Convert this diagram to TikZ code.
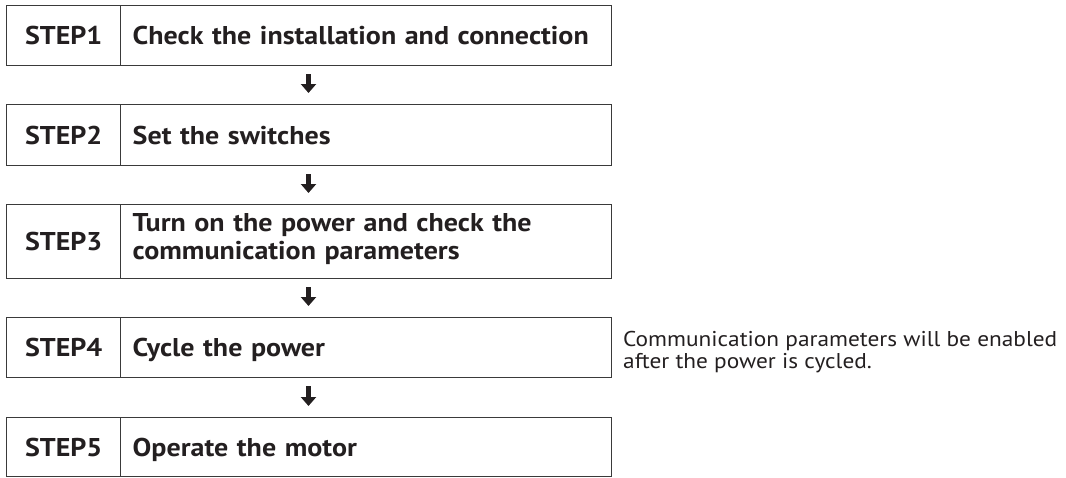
\documentclass[tikz,border=0pt]{standalone}
\usepackage{fontspec}
\setmainfont{PT Sans}[FakeStretch=1.09]
\usetikzlibrary{arrows.meta}
\definecolor{ink}{HTML}{231F20}
\definecolor{frame}{HTML}{3A3A3A}
\begin{document}
\begin{tikzpicture}[x=1pt,y=-1pt,
  boxline/.style={draw=frame, line width=1.4pt, anchor=north west, text=ink},
  lbl/.style={boxline, font=\fontsize{25.7}{27}\selectfont\bfseries, minimum width=114pt, inner sep=0pt, align=center},
  txt/.style={boxline, font=\fontsize{25.7}{27.5}\selectfont\bfseries, text width=467pt, inner xsep=12pt, inner ysep=0pt, align=left},
  one/.style={text height=18pt, text depth=0pt},
  note/.style={anchor=west, text=ink, font=\fontsize{21.4}{22.5}\selectfont, align=left, inner sep=0pt},
  flow/.style={draw=ink, line width=4.4pt, -{Triangle[width=15pt,length=9pt]}, shorten <=8pt, shorten >=11pt}]
\useasboundingbox (0,0) rectangle (1066,477);
% step boxes
\node[lbl, one, minimum height=60pt] (s1) at (6,5) {STEP1};
\node[txt, one, minimum height=60pt] (t1) at (120,5) {Check the installation and connection};
\node[lbl, one, minimum height=61pt] (s2) at (6,104) {STEP2};
\node[txt, one, minimum height=61pt] (t2) at (120,104) {Set the switches};
\node[lbl, one, minimum height=74pt] (s3) at (6,204) {STEP3};
\node[txt, minimum height=74pt, text height=18pt, text depth=38pt] (t3) at (120,204) {Turn on the power and check the\\communication parameters};
\node[lbl, one, minimum height=60pt] (s4) at (6,317) {STEP4};
\node[txt, one, minimum height=60pt] (t4) at (120,317) {Cycle the power};
\node[lbl, one, minimum height=59pt] (s5) at (6,417) {STEP5};
\node[txt, one, minimum height=59pt] (t5) at (120,417) {Operate the motor};
% note
\node[note] (n4) at (623,352) {Communication parameters will be enabled\\after the power is cycled.};
% arrows
\coordinate (ax) at (308.5,0);
\draw[flow] (t1.south -| ax) -- (t2.north -| ax);
\draw[flow] (t2.south -| ax) -- (t3.north -| ax);
\draw[flow] (t3.south -| ax) -- (t4.north -| ax);
\draw[flow] (t4.south -| ax) -- (t5.north -| ax);
\end{tikzpicture}
\end{document}
